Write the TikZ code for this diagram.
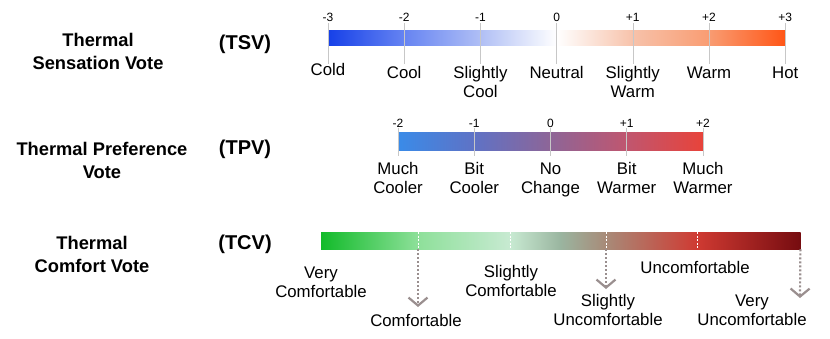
\documentclass[tikz,border=0pt]{standalone}
\usepackage{fontspec}
\setmainfont{Liberation Sans}
\usetikzlibrary{arrows.meta}

\definecolor{tsv0}{HTML}{1640E8}
\definecolor{tsv1}{HTML}{6684F2}
\definecolor{tsv2}{HTML}{B0BFF5}
\definecolor{tsv3}{HTML}{FFFFFF}
\definecolor{tsv4}{HTML}{F7C2AA}
\definecolor{tsv5}{HTML}{F99C72}
\definecolor{tsv6}{HTML}{FF5516}
\definecolor{tpv0}{HTML}{3A8BE8}
\definecolor{tpv1}{HTML}{5F72C5}
\definecolor{tpv2}{HTML}{8E6597}
\definecolor{tpv3}{HTML}{C0566F}
\definecolor{tpv4}{HTML}{E8433A}
\definecolor{tcv0}{HTML}{12BB2A}
\definecolor{tcv1}{HTML}{8EE09A}
\definecolor{tcv2}{HTML}{C8EAD2}
\definecolor{tcv3}{HTML}{9AB5A0}
\definecolor{tcv4}{HTML}{A88A78}
\definecolor{tcv5}{HTML}{CF3A32}
\definecolor{tcv6}{HTML}{760C10}
\definecolor{arrowgray}{HTML}{9A8F8F}

\begin{document}
\begin{tikzpicture}[x=1pt, y=-1pt,
  title/.style={font=\fontsize{18.3}{23}\selectfont\bfseries, align=center, anchor=base, inner sep=0pt},
  abbr/.style={font=\fontsize{20}{24}\selectfont\bfseries, anchor=base, inner sep=0pt},
  lbl/.style={font=\fontsize{16.8}{19}\selectfont, align=center, anchor=base, inner sep=0pt},
  ticklbl/.style={font=\fontsize{12}{14}\selectfont, anchor=base, inner sep=0pt},
  tickline/.style={draw=black!22, line width=0.6pt},
  sepline/.style={draw=white, line width=0.7pt, dash pattern=on 2pt off 1.5pt},
  arr/.style={draw=arrowgray, line width=2.2pt, dash pattern=on 2pt off 2pt, -{Straight Barb[length=8pt, width=19pt, line width=2.2pt]}}
]
\useasboundingbox (0,0) rectangle (830,338);

% titles (base = last line)
\node[title] (tsvtitle) at (98,69) {Thermal\\Sensation Vote};
\node[title] (tpvtitle) at (102,178) {Thermal Preference\\Vote};
\node[title] (tcvtitle) at (92,272) {Thermal\\Comfort Vote};
\node[abbr] (tsv) at (245,49) {(TSV)};
\node[abbr] (tpv) at (245,154) {(TPV)};
\node[abbr] (tcv) at (245,249) {(TCV)};

% TSV scale
\foreach \i/\ca/\cb in {0/tsv0/tsv1, 1/tsv1/tsv2, 2/tsv2/tsv3, 3/tsv3/tsv4, 4/tsv4/tsv5, 5/tsv5/tsv6}
  \shade[left color=\ca, right color=\cb] (328+76.2*\i,30) rectangle (328+76.2*\i+76.7,45);
\node[minimum width=457.2pt, minimum height=15pt, inner sep=0pt, anchor=north west] (tsvbar) at (328,30) {};
\foreach \v [count=\i from 0] in {-3,-2,-1,0,+1,+2,+3} {
  \coordinate (tsvtop\i) at (328+76.2*\i,23);
  \coordinate (tsvbot\i) at (328+76.2*\i,64);
  \draw[tickline] (tsvtop\i) -- (tsvbot\i);
  \node[ticklbl] (tsvnum\i) at (328+76.2*\i,21) {\v};
}
\node[lbl] (cold) at (328,75) {Cold};
\node[lbl] (cool) at (404.2,78) {Cool};
\node[lbl] (slcool) at (480.4,97) {Slightly\\Cool};
\node[lbl] (neutral) at (556.6,78) {Neutral};
\node[lbl] (slwarm) at (632.8,97) {Slightly\\Warm};
\node[lbl] (warm) at (709,78) {Warm};
\node[lbl] (hot) at (785.2,78) {Hot};

% TPV scale
\foreach \i/\ca/\cb in {0/tpv0/tpv1, 1/tpv1/tpv2, 2/tpv2/tpv3, 3/tpv3/tpv4}
  \shade[left color=\ca, right color=\cb] (398+76.25*\i,132) rectangle (398+76.25*\i+76.75,150);
\node[minimum width=305pt, minimum height=18pt, inner sep=0pt, anchor=north west] (tpvbar) at (398,132) {};
\foreach \v [count=\i from 0] in {-2,-1,0,+1,+2} {
  \coordinate (tpvtop\i) at (398+76.25*\i,128);
  \coordinate (tpvbot\i) at (398+76.25*\i,156);
  \draw[tickline] (tpvtop\i) -- (tpvbot\i);
  \node[ticklbl] (tpvnum\i) at (398+76.25*\i,127) {\v};
}
\node[lbl] (muchcooler) at (398,193) {Much\\Cooler};
\node[lbl] (bitcooler) at (474.25,193) {Bit\\Cooler};
\node[lbl] (nochange) at (550.5,193) {No\\Change};
\node[lbl] (bitwarmer) at (626.75,193) {Bit\\Warmer};
\node[lbl] (muchwarmer) at (703,193) {Much\\Warmer};

% TCV scale
\foreach \xa/\xb/\ca/\cb in {321/418/tcv0/tcv1, 418/510/tcv1/tcv2, 510/560/tcv2/tcv3, 560/606/tcv3/tcv4, 606/697/tcv4/tcv5, 697/800/tcv5/tcv6}
  \shade[left color=\ca, right color=\cb] (\xa,232) rectangle (\xb+0.5,249);
\node[minimum width=479pt, minimum height=17pt, inner sep=0pt, anchor=north west] (tcvbar) at (321,232) {};
\foreach \x in {418,510,606,697}
  \draw[sepline] (\x,232) -- (\x,249);
\coordinate (comfend) at (418,307);
\coordinate (slunend) at (606,289);
\coordinate (veryunend) at (800,298);
\draw[arr] (tcvbar.south west -| comfend) -- (comfend);
\draw[arr] (tcvbar.south west -| slunend) -- (slunend);
\draw[arr] (tcvbar.south east) -- (veryunend);
\node[lbl] (verycomf) at (321,297) {Very\\Comfortable};
\node[lbl] (comf) at (416,326) {Comfortable};
\node[lbl] (slcomf) at (511,296) {Slightly\\Comfortable};
\node[lbl] (sluncomf) at (608,325) {Slightly\\Uncomfortable};
\node[lbl] (uncomf) at (695,273) {Uncomfortable};
\node[lbl] (veryuncomf) at (752,325) {Very\\Uncomfortable};
\end{tikzpicture}
\end{document}
